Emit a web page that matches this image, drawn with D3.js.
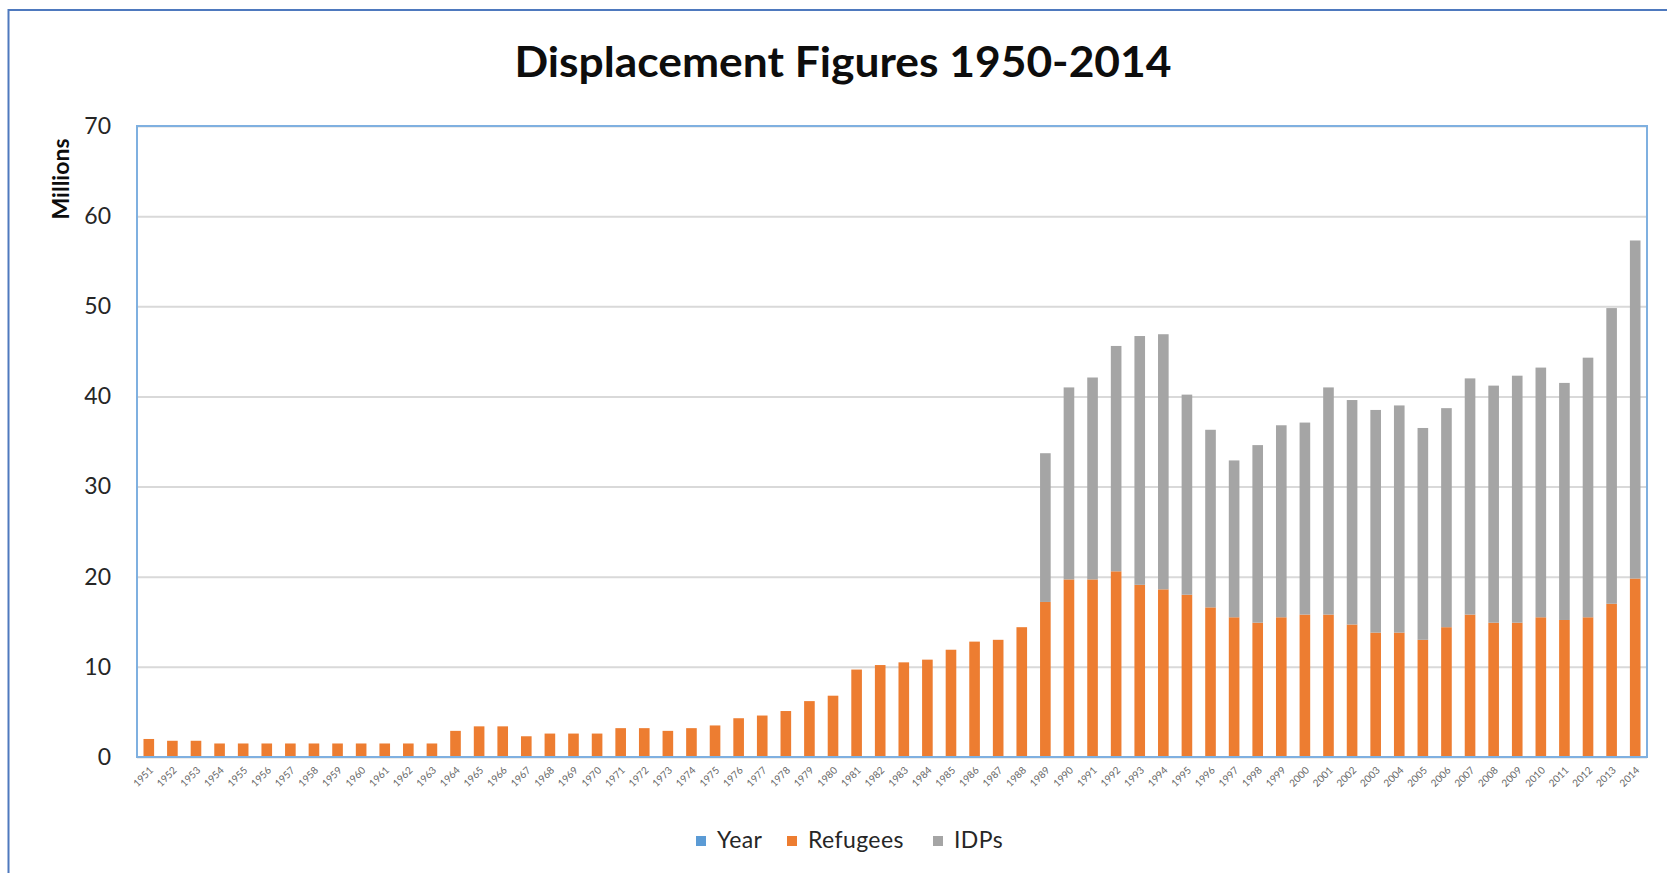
<!DOCTYPE html>
<html>
<head>
<meta charset="utf-8">
<script src="https://cdn.jsdelivr.net/npm/d3@7"></script>
<style>
  body { margin: 0; background: #fff; }
  text { font-family: Lato, "Open Sans", sans-serif; }
</style>
</head>
<body>
<div id="chart"></div>
<script>
// categories
const years = [
  "1951", "1952", "1953", "1954", "1955", "1956", "1957", "1958", "1959", "1960",
  "1961", "1962", "1963", "1964", "1965", "1966", "1967", "1968", "1969", "1970",
  "1971", "1972", "1973", "1974", "1975", "1976", "1977", "1978", "1979", "1980",
  "1981", "1982", "1983", "1984", "1985", "1986", "1987", "1988", "1989", "1990",
  "1991", "1992", "1993", "1994", "1995", "1996", "1997", "1998", "1999", "2000",
  "2001", "2002", "2003", "2004", "2005", "2006", "2007", "2008", "2009", "2010",
  "2011", "2012", "2013", "2014"
];

// millions
const refugees = [
  2.0, 1.8, 1.8, 1.5, 1.5, 1.5, 1.5, 1.5, 1.5, 1.5,
  1.5, 1.5, 1.5, 2.9, 3.4, 3.4, 2.3, 2.6, 2.6, 2.6,
  3.2, 3.2, 2.9, 3.2, 3.5, 4.3, 4.6, 5.1, 6.2, 6.8,
  9.7, 10.2, 10.5, 10.8, 11.9, 12.8, 13.0, 14.4, 17.2, 19.7,
  19.7, 20.6, 19.1, 18.6, 18.0, 16.6, 15.5, 14.9, 15.5, 15.8,
  15.8, 14.7, 13.8, 13.8, 13.0, 14.4, 15.8, 14.9, 14.9, 15.5,
  15.2, 15.5, 17.0, 19.8
];

const idps = [
  0, 0, 0, 0, 0, 0, 0, 0, 0, 0,
  0, 0, 0, 0, 0, 0, 0, 0, 0, 0,
  0, 0, 0, 0, 0, 0, 0, 0, 0, 0,
  0, 0, 0, 0, 0, 0, 0, 0, 16.5, 21.3,
  22.4, 25.0, 27.6, 28.3, 22.2, 19.7, 17.4, 19.7, 21.3, 21.3,
  25.2, 24.9, 24.7, 25.2, 23.5, 24.3, 26.2, 26.3, 27.4, 27.7,
  26.3, 28.8, 32.8, 37.5
];

const seriesNames = ["Year", "Refugees", "IDPs"];
const yTicks = [0, 10, 20, 30, 40, 50, 60, 70];

const width = 1667,
    height = 873,
    margin = ({ top: 126, right: 20, bottom: 116, left: 137 });

const colors = { Year: "#5B9BD5", Refugees: "#ED7D31", IDPs: "#A5A5A5" };

const svg = d3.select("#chart")
    .append("svg")
    .attr("width", width)
    .attr("height", height)
    .attr("viewBox", [0, 0, width, height]);

// outer chart frame, runs off the picture on right and bottom
svg.append("rect")
    .attr("x", 8.5)
    .attr("y", 10)
    .attr("width", width + 20)
    .attr("height", height + 20)
    .attr("fill", "none")
    .attr("stroke", "#4e79be")
    .attr("stroke-width", 2);

let data = years.map((y, i) => ({ year: y, Refugees: refugees[i], IDPs: idps[i] }));
let stacked = d3.stack().keys(["Refugees", "IDPs"])(data);

let x = d3.scaleBand()
    .domain(years)
    .range([margin.left, width - margin.right])
    .paddingInner(0.55)
    .paddingOuter(0.275);

let y = d3.scaleLinear()
    .domain([0, 70])
    .range([height - margin.bottom, margin.top]);

// gridlines
svg.append("g")
    .attr("transform", `translate(${margin.left},0)`)
    .call(d3.axisLeft(y).tickValues(yTicks)
        .tickSize(-(width - margin.right - margin.left))
        .tickFormat(""))
    .call(g => g.select(".domain").remove())
    .call(g => g.selectAll("line").attr("stroke", "#d9d9d9").attr("stroke-width", 2));

// y tick labels
svg.append("g")
    .attr("transform", `translate(${margin.left - 26},0)`)
    .call(d3.axisLeft(y).tickValues(yTicks).tickSize(0).tickPadding(0))
    .call(g => g.select(".domain").remove())
    .call(g => g.selectAll("text")
        .attr("font-family", "Lato, sans-serif")
        .attr("font-size", 23)
        .attr("fill", "#262626"));

// bars
svg.append("g")
    .selectAll("g")
    .data(stacked)
    .join("g")
    .attr("fill", d => colors[d.key])
    .selectAll("rect")
    .data(d => d)
    .join("rect")
    .attr("x", d => x(d.data.year))
    .attr("y", d => y(d[1]))
    .attr("height", d => y(d[0]) - y(d[1]))
    .attr("width", x.bandwidth());

// plot area border
svg.append("rect")
    .attr("x", margin.left)
    .attr("y", margin.top)
    .attr("width", width - margin.right - margin.left)
    .attr("height", height - margin.bottom - margin.top)
    .attr("fill", "none")
    .attr("stroke", "#7fb0e0")
    .attr("stroke-width", 2);

// x labels, rotated
svg.append("g")
    .attr("transform", `translate(0,${height - margin.bottom})`)
    .call(d3.axisBottom(x).tickSize(0).tickPadding(0))
    .call(g => g.select(".domain").remove())
    .call(g => g.selectAll("text")
        .attr("font-family", "Lato, sans-serif")
        .attr("font-size", 10)
        .attr("fill", "#666")
        .attr("text-anchor", "end")
        .attr("dy", 0)
        .attr("transform", "translate(5,14) rotate(-45)"));

// title
svg.append("text")
    .attr("x", 843)
    .attr("y", 77)
    .attr("text-anchor", "middle")
    .attr("font-weight", "bold")
    .attr("font-size", 42)
    .attr("textLength", 657)
    .attr("lengthAdjust", "spacingAndGlyphs")
    .attr("fill", "#0d0d0d")
    .text("Displacement Figures 1950-2014");

// y label
svg.append("text")
    .attr("transform", "translate(69,179) rotate(-90)")
    .attr("text-anchor", "middle")
    .attr("font-weight", "bold")
    .attr("font-size", 23)
    .attr("fill", "#0d0d0d")
    .text("Millions");

// legend
let legendX = [696, 787, 933];
let legend = svg.append("g")
    .selectAll("g")
    .data(seriesNames)
    .join("g")
    .attr("transform", (d, i) => `translate(${legendX[i]},836)`);

legend.append("rect")
    .attr("width", 10)
    .attr("height", 10)
    .attr("fill", d => colors[d]);

legend.append("text")
    .attr("x", 21)
    .attr("y", 12)
    .attr("font-size", 23)
    .attr("letter-spacing", 0.4)
    .attr("fill", "#262626")
    .text(d => d);
</script>
</body>
</html>
